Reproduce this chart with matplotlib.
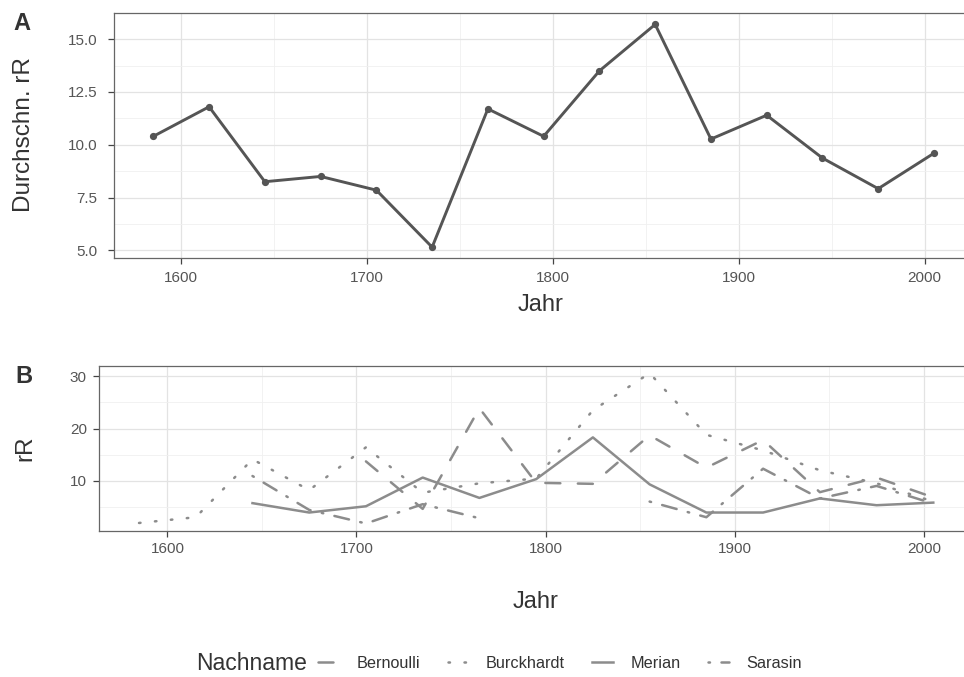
import numpy as np
import matplotlib
matplotlib.use("Agg")
import matplotlib.pyplot as plt
from matplotlib.ticker import MultipleLocator

plt.rcParams['font.family'] = ['Liberation Sans', 'DejaVu Sans']

# data
jahr = [1585, 1615, 1645, 1675, 1705, 1735, 1765, 1795, 1825, 1855, 1885, 1915, 1945, 1975, 2005]
mittel_rR = [10.4, 11.8, 8.25, 8.5, 7.85, 5.15, 11.7, 10.4, 13.5, 15.7, 10.27, 11.4, 9.37, 7.92, 9.6]

nan = np.nan
bernoulli = [nan, nan, nan, nan, 13.7, 4.6, 23.9, 9.6, 9.4, 18.7, 12.5, 17.8, 7.8, 10.6, 6.8]
burckhardt = [1.9, 3.0, 14.1, 8.2, 16.4, 7.7, 9.5, 10.4, 23.5, 30.6, 18.8, 15.8, 12.0, 9.5, 6.0]
merian = [nan, nan, 5.7, 3.9, 5.1, 10.6, 6.7, 10.3, 18.3, 9.3, 3.9, 3.9, 6.6, 5.3, 5.8]
sarasin = [nan, nan, 10.9, 4.4, 1.8, 5.5, 2.8, nan, nan, 6.0, 3.0, 12.3, 6.6, 9.0, 5.6]

namen = ['Bernoulli', 'Burckhardt', 'Merian', 'Sarasin']
reihen = [bernoulli, burckhardt, merian, sarasin]
stile = [(0, (6, 7)), (0, (0.6, 5.8)), '-', (0, (0.6, 4.6, 6, 4.6))]


def expand(vals, f=0.05):
    v = np.array(vals, dtype=float)
    lo, hi = np.nanmin(v), np.nanmax(v)
    r = hi - lo
    return lo - f * r, hi + f * r


def style_axes(ax, ypad):
    ax.set_facecolor('white')
    for s in ax.spines.values():
        s.set_color('#666666')
        s.set_linewidth(0.9)
    ax.grid(which='major', color='#e3e3e3', linewidth=0.9)
    ax.grid(which='minor', color='#f0f0f0', linewidth=0.6)
    ax.set_axisbelow(True)
    ax.xaxis.set_major_locator(MultipleLocator(100))
    ax.xaxis.set_minor_locator(MultipleLocator(50))
    ax.tick_params(which='major', length=4, width=0.9, color='#444444',
                   labelcolor='#555555', labelsize=11)
    ax.tick_params(axis='y', pad=ypad)
    ax.tick_params(which='minor', length=0)


fig = plt.figure(figsize=(9.64, 6.77), dpi=100)

# panel A
axA = fig.add_axes([114.3 / 964, 1 - 258.3 / 677, (973 - 114.3) / 964, (258.3 - 13.3) / 677])
axA.plot(jahr, mittel_rR, color='#555555', linewidth=2.1, marker='o', markersize=4.2)
axA.set_xlim(*expand(jahr))
axA.set_ylim(*expand(mittel_rR))
axA.yaxis.set_major_locator(MultipleLocator(2.5))
axA.yaxis.set_minor_locator(MultipleLocator(1.25))
axA.yaxis.set_major_formatter(matplotlib.ticker.FormatStrFormatter('%.1f'))
style_axes(axA, 8)
axA.tick_params(axis='x', pad=5)

# panel B
axB = fig.add_axes([99.3 / 964, 1 - 531 / 677, (973 - 99.3) / 964, (531 - 365.7) / 677])
alle = []
for name, werte, ls in zip(namen, reihen, stile):
    axB.plot(jahr, werte, color='#8c8c8c', linewidth=1.8, linestyle=ls, label=name,
             dash_capstyle='round')
    alle += werte
axB.set_xlim(*expand(jahr))
axB.set_ylim(*expand(alle))
axB.yaxis.set_major_locator(MultipleLocator(10))
axB.yaxis.set_minor_locator(MultipleLocator(5))
style_axes(axB, 5)
axB.tick_params(axis='x', pad=4)

# titles and panel letters
fig.text(13 / 964, 1 - 23 / 677, 'A', fontsize=17, fontweight='bold', color='#333333', va='center')
fig.text(15 / 964, 1 - 376.5 / 677, 'B', fontsize=17, fontweight='bold', color='#333333', va='center')
fig.text(24.5 / 964, 1 - 135 / 677, 'Durchschn. rR', fontsize=17.5, rotation=90,
         ha='center', va='center', color='#333333')
fig.text(25 / 964, 1 - 448 / 677, 'rR', fontsize=17.5, rotation=90,
         ha='center', va='center', color='#333333')
fig.text(541 / 964, 1 - 305 / 677, 'Jahr', fontsize=17, ha='center', va='center', color='#333333')
fig.text(536 / 964, 1 - 602 / 677, 'Jahr', fontsize=17, ha='center', va='center', color='#333333')

# legend
fig.text(196 / 964, 1 - 663 / 677, 'Nachname', fontsize=16.5, ha='left', va='center', color='#333333')
handles, labels = axB.get_legend_handles_labels()
fig.legend(handles, labels, loc='center left', bbox_to_anchor=(310 / 964, 1 - 663 / 677),
           ncol=4, frameon=False, fontsize=11.7, handlelength=1.25, handletextpad=1.1,
           columnspacing=1.7, borderpad=0, labelcolor='#333333')

fig.savefig('out.png', dpi=100, facecolor='white')
